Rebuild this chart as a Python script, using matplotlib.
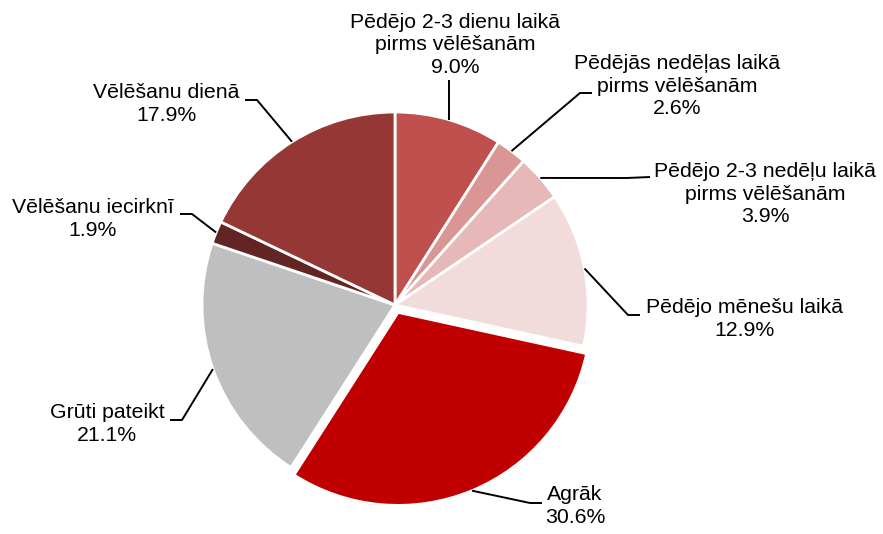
import matplotlib.pyplot as plt
import numpy as np

labels = ["Pēdējo 2-3 dienu laikā\npirms vēlēšanām",
          "Pēdējās nedēļas laikā\npirms vēlēšanām",
          "Pēdējo 2-3 nedēļu laikā\npirms vēlēšanām",
          "Pēdējo mēnešu laikā",
          "Agrāk",
          "Grūti pateikt",
          "Vēlēšanu iecirknī",
          "Vēlēšanu dienā"]
values = [9.0, 2.6, 3.9, 12.9, 30.6, 21.1, 1.9, 17.9]
colors = ["#C0504D", "#D99694", "#E6B9B8", "#F2DCDB",
          "#C00000", "#BFBFBF", "#632523", "#953735"]

H = 534
cx, cy, R = 395, H - 305, 193

# label layout in pixel coords (y down): text centre, leader points after anchor
text_pos = [(455, 45), (677, 86), (765, 194), (745, 319),
            (575, 506), (107, 424), (93, 219), (166, 104)]
leaders = [[(None, 80)],
           [(580, 93), (592, 93)],
           [(627, 178), (650, 177)],
           [(628, 315), (640, 315)],
           [(530, 503), (542, 503)],
           [(182, 420), (170, 420)],
           [(192, 214), (180, 214)],
           [(257, 100), (245, 100)]]

plt.rcParams['font.family'] = ['Liberation Sans', 'DejaVu Sans']

fig = plt.figure(figsize=(8.83, 5.34), dpi=100)
ax = fig.add_axes([0, 0, 1, 1])

# explode is in data units here (pixels)
explode = [0, 0, 0, 0, 8, 0, 0, 0]
wedges, _ = ax.pie(values, colors=colors, startangle=90, counterclock=False,
                   center=(cx, cy), radius=R, explode=explode,
                   wedgeprops=dict(edgecolor='white', linewidth=2),
                   frame=True)
ax.set_xlim(0, 883)
ax.set_ylim(0, H)
ax.set_aspect('equal')
ax.axis('off')

for w, lab, v, (tx, ty), pts in zip(wedges, labels, values, text_pos, leaders):
    ang = np.deg2rad((w.theta1 + w.theta2) / 2)
    px = w.center[0] + w.r * np.cos(ang)
    py = w.center[1] + w.r * np.sin(ang)
    xs, ys = [px], [py]
    for x, y in pts:
        xs.append(px if x is None else x)
        ys.append(H - y)
    ax.plot(xs, ys, color='black', lw=1.4, solid_capstyle='butt')
    ax.text(tx, H - ty, f"{lab}\n{v:.1f}%", ha='center', va='center',
            fontsize=15.3, color='black', linespacing=1.25)

fig.savefig("out.png", dpi=100)
